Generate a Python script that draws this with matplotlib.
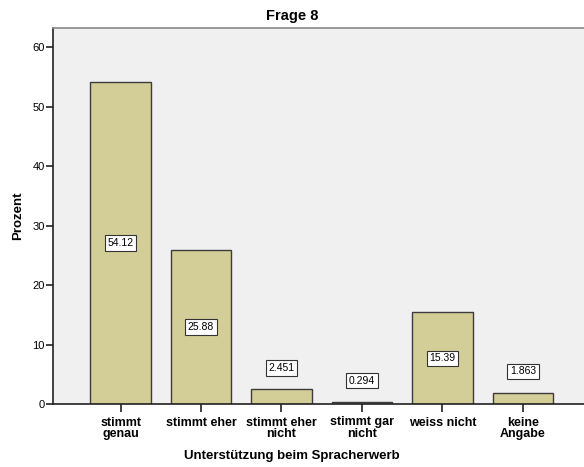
import matplotlib.pyplot as plt

plt.rcParams['font.family'] = ['Liberation Sans', 'DejaVu Sans']

categories = ["stimmt\ngenau", "stimmt eher", "stimmt eher\nnicht",
              "stimmt gar\nnicht", "weiss nicht", "keine\nAngabe"]
prozent = [54.12, 25.88, 2.451, 0.294, 15.39, 1.863]
labels = ["54.12", "25.88", "2.451", "0.294", "15.39", "1.863"]

fig = plt.figure(figsize=(5.84, 4.67), dpi=100)
ax = fig.add_axes([53 / 584, 63 / 467, 1 - 53 / 584, (404 - 28) / 467])
ax.set_facecolor("#f0f0f0")

x = range(len(categories))
ax.bar(x, prozent, width=0.75, color="#d3ce97", edgecolor="#3c3c3c", linewidth=1.0, zorder=2)

for i, (v, lab) in enumerate(zip(prozent, labels)):
    if v > 10:
        y = v / 2
    else:
        y = v + 3.6
    ax.text(i, y, lab, ha="center", va="center", fontsize=7.5,
            bbox=dict(boxstyle="square,pad=0.25", fc="white", ec="#333333", lw=0.8), zorder=3)

ax.set_xlim(-0.84, 5.76)
ax.set_ylim(0, 63.2)
ax.set_yticks([0, 10, 20, 30, 40, 50, 60])
ax.set_xticks(list(x))
ax.set_xticklabels(categories, fontweight="bold", fontsize=9, linespacing=0.95)
ax.tick_params(axis="y", labelsize=8, length=5, width=1.2, color="#222222", pad=1)
ax.tick_params(axis="x", length=6, width=1.2, color="#222222", pad=3)

for side in ["left", "bottom"]:
    ax.spines[side].set_color("#222222")
    ax.spines[side].set_linewidth(1.2)
ax.spines["top"].set_color("#888888")
ax.spines["top"].set_linewidth(1.2)
ax.spines["right"].set_visible(False)

fig.text(0.5, 1 - 16 / 467, "Frage 8", ha="center", va="center", fontsize=10.5, fontweight="bold")
fig.text(0.5, 1 - 456 / 467, "Unterstützung beim Spracherwerb", ha="center", va="center",
         fontsize=9.5, fontweight="bold")
fig.text(18 / 584, 1 - 216 / 467, "Prozent", ha="center", va="center", rotation=90,
         fontsize=9.5, fontweight="bold")

fig.savefig("out.png", dpi=100)
